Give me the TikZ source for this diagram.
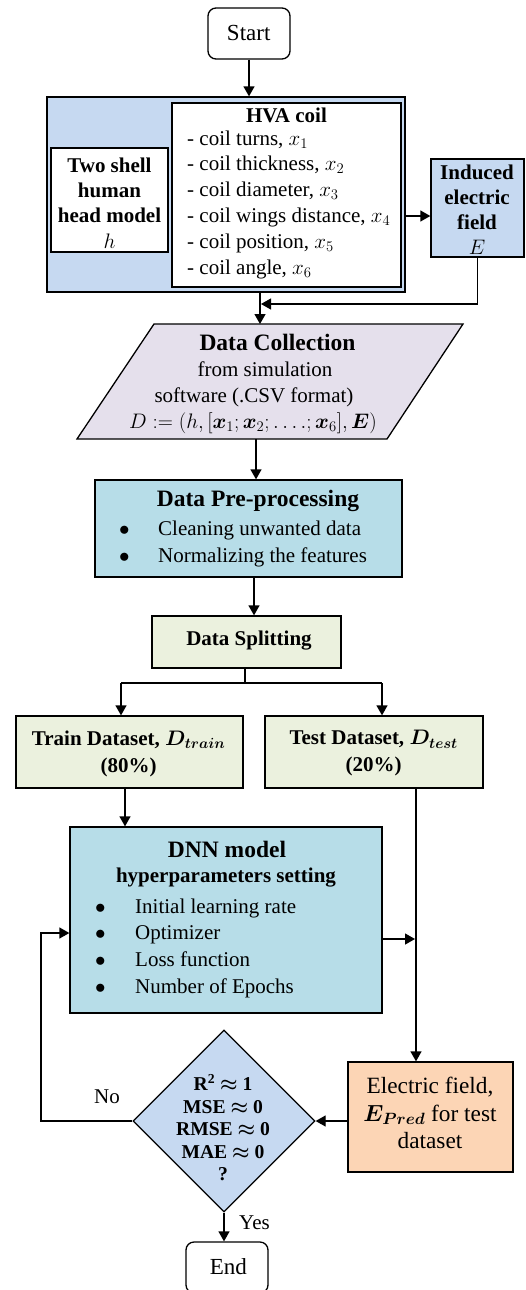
\RequirePackage{fix-cm}
\documentclass[tikz,border=0pt]{standalone}
\usepackage{amsmath,bm}
\usepackage{fontspec}
\setmainfont{Liberation Serif}
\usetikzlibrary{arrows.meta,shapes.geometric,calc}
\definecolor{cblue}{HTML}{C6D9F1}
\definecolor{clav}{HTML}{E5E0EC}
\definecolor{caqua}{HTML}{B7DDE8}
\definecolor{colive}{HTML}{EBF1DE}
\definecolor{cpeach}{HTML}{FCD5B5}
\newcommand{\fsbody}{\fontsize{21}{26}\selectfont}
\newcommand{\fshead}{\fontsize{23.5}{28}\selectfont}
\newcommand{\bul}[1]{\makebox[#1][l]{\hspace*{-1.5pt}$\bullet$}}
\begin{document}
\begin{tikzpicture}[x=1pt,y=-1pt,
  box/.style={draw, line width=1.3pt, rectangle, inner sep=0pt},
  lbl/.style={inner sep=0pt, align=center, font=\fsbody},
  arr/.style={line width=1.3pt, -{Triangle[length=10pt,width=11pt]}},
  ln/.style={line width=1.3pt}]
\useasboundingbox (0,0) rectangle (526,1290);
\fill[white] (0,0) rectangle (526,1290);

% Start
\node[box, rounded corners=8pt, minimum width=82, minimum height=51] (start) at (249,33.5) {};
\node[lbl, font=\fontsize{23}{27}\selectfont] (startt) at (248.7,33) {Start};

% top group
\node[box, fill=cblue, minimum width=358, minimum height=195] (outer) at (226,194.5) {};
\node[box, fill=white, minimum width=229, minimum height=184] (hva) at (286.5,195) {};
\node[lbl, font=\bfseries\fsbody] (hvat) at (286.5,115) {HVA coil};
\node[lbl, align=left, anchor=west, font=\fontsize{21}{25.8}\selectfont] (hval) at (187,204.5)
  {- coil turns, $x_1$\\- coil thickness, $x_2$\\- coil diameter, $x_3$\\- coil wings distance, $x_4$\\- coil position, $x_5$\\- coil angle, $x_6$};
\node[box, fill=white, minimum width=117, minimum height=104] (shell) at (109.5,200) {};
\node[lbl, font=\bfseries\fontsize{21}{25.3}\selectfont] (shellt) at (109.5,203) {Two shell\\human\\head model\\$h$};
\node[box, fill=cblue, minimum width=93, minimum height=98] (induced) at (477.5,208) {};
\node[lbl, font=\bfseries\fontsize{21}{25}\selectfont] (inducedt) at (477,209.5) {Induced\\electric\\field\\$E$};

% Data collection
\coordinate (dtl) at (154,324);
\coordinate (dtr) at (463,324);
\coordinate (dbr) at (387,439);
\coordinate (dbl) at (77,439);
\draw[ln, fill=clav] (dtl) -- (dtr) -- (dbr) -- (dbl) -- cycle;
\node[lbl, font=\bfseries\fshead] (dc1) at (277.5,342) {Data Collection};
\node[lbl] (dc2) at (265,369) {from simulation};
\node[lbl] (dc3) at (254,397) {software (.CSV format)};
\node[lbl] (dc4) at (253,423) {$D \mathrel{:=} (h,[\bm{x}_1;\bm{x}_2;\ldots.;\bm{x}_6],\bm{E})$};

% Pre-processing
\node[box, fill=caqua, minimum width=307, minimum height=97] (pre) at (248.5,528.5) {};
\node[lbl, font=\bfseries\fshead] (pret) at (258,501) {Data Pre-processing};
\node[lbl, align=left, anchor=west, font=\fontsize{21}{27}\selectfont] (prel) at (120.5,543.5)
  {\bul{37.5pt}Cleaning unwanted data\\\bul{37.5pt}Normalizing the features};

% Splitting
\node[box, fill=colive, minimum width=189, minimum height=52] (split) at (246.5,642) {};
\node[lbl, font=\bfseries\fsbody] (splitt) at (249,641) {Data Splitting};

\node[box, fill=colive, minimum width=227, minimum height=72] (train) at (129.5,752) {};
\node[lbl, font=\bfseries\fontsize{21}{27}\selectfont] (traint) at (128.7,753.5) {Train Dataset, $\bm{D_{train}}$\\(80\%)};
\node[box, fill=colive, minimum width=218, minimum height=72] (test) at (374,752) {};
\node[lbl, font=\bfseries\fontsize{21}{27}\selectfont] (testt) at (373.7,753.5) {Test Dataset, $\bm{D_{test}}$\\(20\%)};

% DNN
\node[box, fill=caqua, minimum width=312, minimum height=186] (dnn) at (226,920) {};
\node[lbl, font=\bfseries\fshead] (dnnt) at (227,849) {DNN model};
\node[lbl, font=\bfseries\fsbody] (dnnh) at (226,878) {hyperparameters setting};
\node[lbl, align=left, anchor=west, font=\fontsize{21}{26.7}\selectfont] (dnnl) at (96.5,948)
  {\bul{38.5pt}Initial learning rate\\\bul{38.5pt}Optimizer\\\bul{38.5pt}Loss function\\\bul{38.5pt}Number of Epochs};

% Decision
\node[diamond, draw, line width=1.3pt, fill=cblue, minimum width=182, minimum height=182, inner sep=0pt, aspect=1] (dia) at (224,1121) {};
\node[lbl, font=\bfseries\fontsize{19.6}{22.5}\selectfont] (diat) at (223,1128)
  {R\textsuperscript{2} $\bm{\approx}$ 1\\MSE $\bm{\approx}$ 0\\RMSE $\bm{\approx}$ 0\\MAE $\bm{\approx}$ 0\\?};

% Electric field
\node[box, fill=cpeach, minimum width=165, minimum height=110] (ef) at (430.5,1117) {};
\node[lbl, font=\fontsize{23.3}{27.5}\selectfont] (eft) at (430,1113) {Electric field,\\$\bm{E_{Pred}}$ for test\\dataset};

% End
\node[box, rounded corners=8pt, minimum width=82, minimum height=51] (end) at (227,1267.5) {};
\node[lbl, font=\fontsize{23}{27}\selectfont] (endt) at (228.3,1267) {End};

\node[lbl] (no) at (107,1097) {No};
\node[lbl] (yes) at (254.5,1223) {Yes};

% connectors
\coordinate (ea) at (418,216);
\coordinate (jv) at (260,304);
\coordinate (j1) at (261,304);
\coordinate (dcb) at (256,439);
\coordinate (pb) at (254,577);
\coordinate (sj) at (245,683);
\coordinate (tl) at (121,683);
\coordinate (tr) at (382,683);
\coordinate (trb) at (125,788);
\coordinate (teb) at (416,788);
\coordinate (j2) at (415,939);
\coordinate (fb) at (41,933);

\draw[arr] (start.south) -- (start.south |- outer.north);
\draw[arr] (outer.east |- ea) -- (induced.west |- ea);
\draw[arr] (induced.south) |- (j1);
\draw[arr] (outer.south -| jv) -- (jv |- dtl);
\draw[arr] (dcb) -- (dcb |- pre.north);
\draw[arr] (pb) -- (pb |- split.north);
\draw[ln] (split.south -| sj) -- (sj);
\draw[ln] (tl) -- (tr);
\draw[arr] (tl) -- (tl |- train.north);
\draw[arr] (tr) -- (tr |- test.north);
\draw[arr] (trb) -- (trb |- dnn.north);
\draw[arr] (teb) -- (teb |- ef.north);
\draw[arr] (dnn.east |- j2) -- (j2);
\draw[arr] (ef.west |- dia.east) -- (dia.east);
\draw[arr] (dia.west) -| (fb) -- (dnn.west |- fb);
\draw[arr] (dia.south) -- (dia.south |- end.north);
\end{tikzpicture}
\end{document}
